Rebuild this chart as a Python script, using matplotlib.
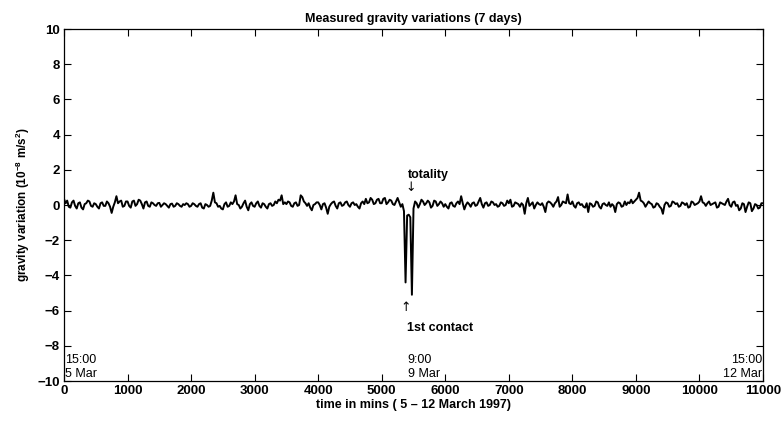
import numpy as np
import matplotlib
matplotlib.use("Agg")
import matplotlib.pyplot as plt

plt.rcParams['font.family'] = ['Liberation Sans', 'DejaVu Sans']
plt.rcParams['mathtext.fontset'] = 'custom'
plt.rcParams['mathtext.rm'] = 'Liberation Sans:bold'
plt.rcParams['mathtext.bf'] = 'Liberation Sans:bold'
plt.rcParams['mathtext.default'] = 'bf'

step_min = 25
gravity = [
    # 0 - 975
    0.35, 0.10, 0.25, -0.10, -0.15, 0.15, 0.25, -0.05, -0.20, 0.10,
    0.15, -0.15, -0.25, 0.05, 0.10, 0.25, 0.20, -0.05, -0.10, 0.10,
    0.05, -0.10, -0.20, 0.10, 0.15, -0.05, -0.05, 0.20, 0.10, -0.10,
    -0.45, -0.10, 0.15, 0.50, 0.10, 0.20, 0.25, -0.10, -0.05, 0.20,
    # 1000 - 1975
    0.20, -0.05, -0.15, 0.20, 0.25, -0.05, 0.05, 0.30, 0.25, 0.05,
    -0.20, 0.15, 0.20, -0.05, -0.10, 0.15, 0.10, 0.00, -0.05, 0.10,
    0.12, -0.10, 0.00, 0.10, 0.05, -0.05, -0.15, 0.05, 0.08, -0.10,
    -0.05, 0.10, 0.05, -0.05, -0.10, 0.05, 0.00, 0.10, 0.05, -0.10,
    # 2000 - 2975
    -0.05, 0.10, 0.05, -0.05, -0.10, 0.05, 0.10, -0.15, -0.20, 0.05,
    0.00, -0.10, -0.05, 0.25, 0.70, 0.15, 0.10, -0.10, -0.05, -0.20,
    -0.25, 0.05, 0.15, -0.10, -0.05, 0.15, 0.05, 0.20, 0.55, 0.05,
    0.00, -0.20, -0.10, 0.10, 0.25, -0.10, -0.30, 0.05, 0.15, -0.05,
    # 3000 - 3975
    -0.10, 0.10, 0.20, -0.05, -0.15, 0.10, 0.05, -0.10, -0.20, 0.05,
    0.10, -0.05, 0.00, 0.20, 0.10, 0.30, 0.25, 0.55, 0.05, 0.15,
    0.05, 0.20, 0.15, -0.05, -0.10, 0.10, 0.15, -0.05, 0.00, 0.55,
    0.45, 0.20, 0.10, -0.05, 0.10, -0.15, -0.30, 0.00, 0.05, 0.15,
    # 4000 - 4975
    0.15, 0.00, -0.25, 0.05, 0.10, -0.15, -0.50, -0.10, 0.05, 0.15,
    0.20, -0.05, -0.20, 0.10, 0.15, -0.05, 0.00, 0.15, 0.20, 0.00,
    -0.10, 0.10, 0.15, 0.00, 0.05, -0.10, -0.20, 0.10, 0.20, 0.05,
    0.35, 0.10, 0.15, 0.40, 0.30, 0.05, 0.10, 0.30, 0.35, 0.10,
    # 5000 - 5975
    0.10, 0.35, 0.40, 0.05, 0.15, 0.30, 0.25, 0.05, 0.00, 0.20,
    0.40, 0.15, -0.10, 0.05, -0.35, -4.40, -0.60, -0.55, -0.70, -5.10,
    -0.20, 0.20, 0.10, -0.15, 0.05, 0.30, 0.20, 0.00, 0.10, 0.25,
    0.15, -0.15, -0.05, 0.25, 0.20, -0.05, 0.05, 0.20, 0.10, -0.10,
    # 6000 - 6975
    0.05, -0.10, -0.20, 0.10, 0.15, -0.05, -0.10, 0.10, 0.20, 0.05,
    0.50, 0.10, -0.25, 0.00, 0.15, 0.05, -0.10, 0.10, 0.15, -0.05,
    0.00, 0.20, 0.40, 0.05, -0.15, 0.10, 0.15, -0.05, 0.00, 0.20,
    0.15, 0.00, 0.05, -0.10, -0.05, 0.15, 0.10, -0.05, 0.00, 0.25,
    # 7000 - 7975
    0.10, 0.30, -0.10, -0.05, 0.15, 0.10, 0.05, -0.10, 0.10, 0.00,
    -0.50, 0.10, 0.40, -0.05, 0.05, 0.15, -0.20, 0.00, 0.15, 0.05,
    0.00, 0.10, -0.10, -0.40, 0.10, 0.20, 0.15, 0.05, -0.10, 0.10,
    0.20, 0.45, -0.10, 0.00, 0.20, 0.15, 0.10, 0.60, 0.10, 0.05,
    # 8000 - 8975
    0.20, -0.05, -0.15, 0.10, 0.15, 0.00, 0.05, -0.10, -0.15, 0.10,
    -0.40, 0.10, 0.05, -0.10, -0.05, 0.20, 0.15, -0.10, -0.20, 0.05,
    0.10, 0.00, -0.05, 0.15, -0.10, 0.05, -0.05, -0.40, 0.05, 0.15,
    0.10, -0.10, -0.05, 0.20, 0.00, 0.15, 0.10, 0.30, 0.10, 0.20,
    # 9000 - 9975
    0.30, 0.40, 0.70, 0.25, 0.20, 0.10, -0.10, 0.05, 0.20, 0.10,
    0.05, -0.15, -0.10, 0.10, 0.05, -0.10, -0.20, -0.50, 0.00, 0.15,
    0.10, -0.10, -0.05, 0.20, 0.15, 0.05, 0.10, -0.10, -0.05, 0.15,
    0.10, 0.00, 0.10, -0.15, -0.10, 0.20, 0.15, 0.00, 0.05, 0.10,
    # 10000 - 10975
    0.20, 0.50, 0.15, 0.10, -0.05, 0.10, 0.20, 0.00, 0.05, 0.10,
    0.15, -0.15, -0.10, 0.15, 0.10, 0.05, 0.00, 0.20, 0.35, 0.00,
    -0.10, 0.15, 0.20, -0.05, 0.00, -0.30, -0.20, 0.10, 0.05, -0.40,
    -0.10, 0.15, 0.10, -0.35, -0.20, 0.05, 0.00, -0.20, -0.15, 0.10,
    # 11000
    0.10,
]
time_min = np.arange(len(gravity)) * step_min

x_ticks = [0, 1000, 2000, 3000, 4000, 5000, 6000, 7000, 8000, 9000, 10000, 11000]
y_ticks = [-10, -8, -6, -4, -2, 0, 2, 4, 6, 8, 10]

title = "Measured gravity variations (7 days)"
xlabel = "time in mins ( 5 \u2013 12 March 1997)"
ylabel = r"gravity variation (10$^{-8}$ m/s$^{2}$)"

fig = plt.figure(figsize=(7.84, 4.33), dpi=100)
ax = fig.add_axes([64/784, 1-381/433, (763-64)/784, (381-29)/433])

ax.plot(time_min, gravity, color='black', lw=1.4)

ax.set_xlim(0, 11000)
ax.set_ylim(-10, 10)
ax.set_xticks(x_ticks)
ax.set_yticks(y_ticks)
ax.tick_params(direction='in', length=5, width=0.8, top=True, right=True,
               labelsize=9.5, pad=3)
for lab in ax.get_xticklabels() + ax.get_yticklabels():
    lab.set_fontweight('bold')
for s in ax.spines.values():
    s.set_linewidth(0.9)

ax.set_title(title, fontsize=9, fontweight='bold', pad=5)
ax.set_xlabel(xlabel, fontsize=9, fontweight='bold', labelpad=1)
ax.set_ylabel(ylabel, fontsize=8.5, fontweight='bold', labelpad=4)

ax.text(5406, 1.7, "totality", fontsize=9, fontweight='bold', ha='left', va='center')
ax.text(5450, 1.0, "\u2193", fontsize=9, ha='center', va='center',
        family=['DejaVu Sans'])
ax.text(5380, -5.85, "\u2191", fontsize=9, ha='center', va='center',
        family=['DejaVu Sans'])
ax.text(5390, -7.0, "1st contact", fontsize=9, fontweight='bold', ha='left', va='center')

ax.text(20, -9.2, "15:00\n5 Mar", fontsize=9, ha='left', va='center', linespacing=1.2)
ax.text(5406, -9.2, "9:00\n9 Mar", fontsize=9, ha='left', va='center', linespacing=1.2)
ax.text(10985, -9.2, "15:00\n12 Mar", fontsize=9, ha='right', va='center', linespacing=1.2)

fig.savefig("out.png", dpi=100)
